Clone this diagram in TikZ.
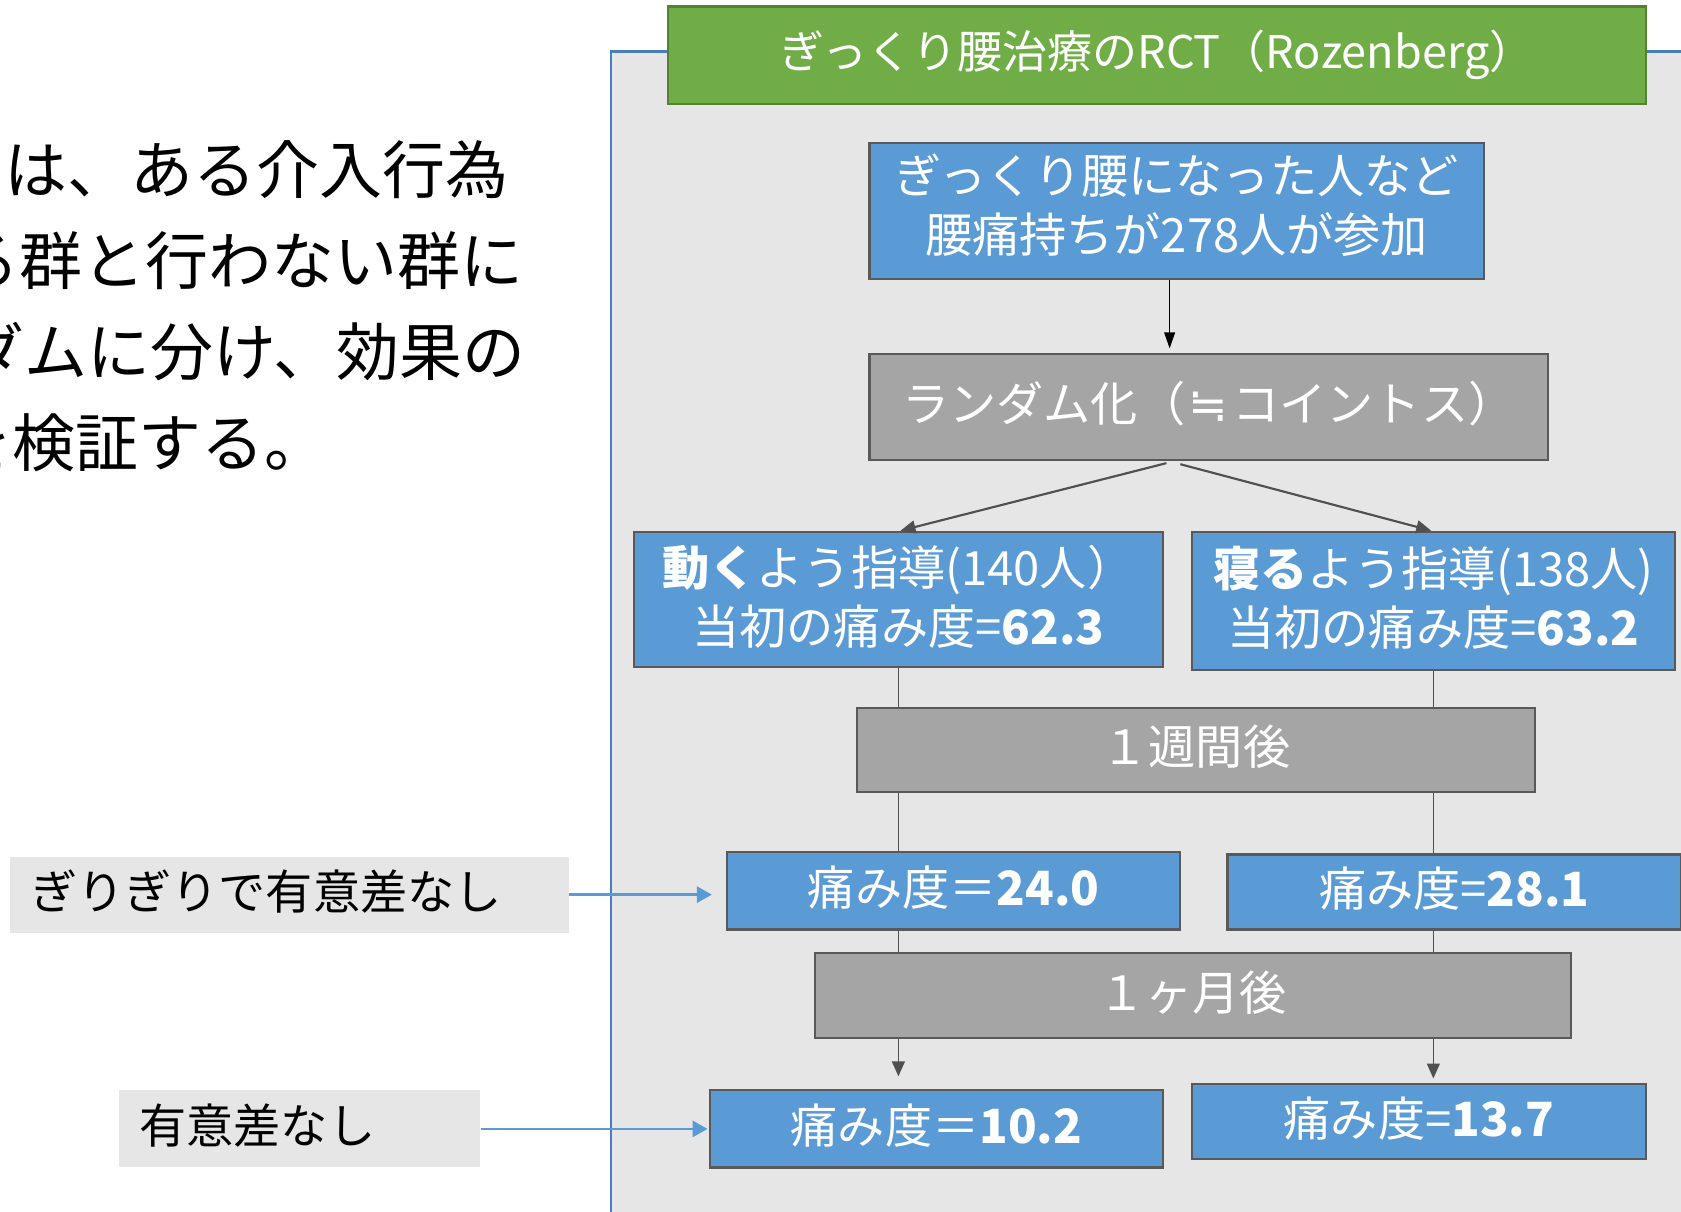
\documentclass[tikz,border=0pt]{standalone}
\usepackage{fontspec}
\setmainfont{Noto Sans CJK JP}
\newfontfamily\symfont{DejaVu Sans}
\usetikzlibrary{arrows.meta,calc}
\definecolor{panelfill}{RGB}{230,230,230}
\definecolor{panelline}{RGB}{74,126,187}
\definecolor{tgreen}{RGB}{112,173,71}
\definecolor{tgreenline}{RGB}{84,130,53}
\definecolor{bfill}{RGB}{91,155,213}
\definecolor{gfill}{RGB}{165,165,165}
\definecolor{bline}{RGB}{89,89,89}
\definecolor{conn}{RGB}{80,80,80}
\begin{document}
\begin{tikzpicture}[x=1pt,y=-1pt,
  box/.style={draw=bline,line width=2pt,inner sep=0pt,text=white,align=center,
    font=\fontsize{44}{55}\selectfont},
  oneline/.style={text height=38pt,text depth=10.6pt},
  bluebox/.style={box,fill=bfill},
  graybox/.style={box,fill=gfill},
  titlebox/.style={box,fill=tgreen,draw=tgreenline,font=\fontsize{42}{50}\selectfont},
  sidelabel/.style={fill=panelfill,inner ysep=0pt,inner xsep=19pt,align=left,
    text=black,font=\fontsize{44}{55}\selectfont,oneline},
  bodytext/.style={anchor=west,inner sep=0pt,text=black,font=\fontsize{58.7}{85}\selectfont},
  darrow/.style={draw=conn,line width=2pt,-{Triangle[length=14pt,width=12pt]}},
  dline/.style={draw=conn,line width=1.6pt},
  karrow/.style={draw=black,line width=1.6pt,-{Triangle[length=15pt,width=10pt]}},
  barrow/.style={draw=bfill,line width=2.6pt,-{Triangle[length=14pt,width=15pt]}}
]
\useasboundingbox (0,0) rectangle (1568,1130);
\clip (0,0) rectangle (1568,1130);
\fill[white] (0,0) rectangle (1568,1130);

% left explanatory text (cut by the page edge, as in the reference)
\node[bodytext] (t1) at (4,158) {は、ある介入行為};
\node[bodytext] (t2) at (-40.5,243) {る群と行わない群に};
\node[bodytext] (t3) at (-35.7,328) {ダムに分け、効果の};
\node[bodytext] (t4) at (-47.2,413) {を検証する。};

% panel
\draw[fill=panelfill,draw=panelline,line width=2pt] (570,48) rectangle (1600,1160);

% title
\node[titlebox,minimum width=912pt,minimum height=91pt] (title) at (1079,51.5)
  {ぎっくり腰治療のRCT（Rozenberg）};

% boxes
\node[bluebox,minimum width=573pt,minimum height=127pt,text width=560pt,
  text height=38pt,text depth=69.6pt] (b1) at (1097.5,196.5)
  {ぎっくり腰になった人など\\腰痛持ちが278人が参加};
\node[graybox,oneline,minimum width=633pt,minimum height=99pt] (rnd) at (1127.5,379.5)
  {ランダム化（\makebox[44pt]{\symfont ≒}コイントス）};
\node[bluebox,minimum width=494pt,minimum height=126pt,text width=480pt,
  text height=38pt,text depth=64pt] (L) at (838,559)
  {\textbf{動く}よう指導(140人）\\当初の痛み度=\textbf{62.3}};
\node[bluebox,minimum width=450pt,minimum height=129pt,text width=445pt,
  text height=38pt,text depth=64pt] (R) at (1337,560.5)
  {\textbf{寝る}よう指導(138人)\\当初の痛み度=\textbf{63.2}};
\node[graybox,oneline,minimum width=633pt,minimum height=79pt] (wk) at (1115.5,699.5)
  {１週間後};
\node[bluebox,oneline,minimum width=423pt,minimum height=72pt] (p1L) at (889.5,831)
  {痛み度＝\textbf{24.0}};
\node[bluebox,oneline,minimum width=423pt,minimum height=70pt] (p1R) at (1356.5,832)
  {痛み度=\textbf{28.1}};
\node[graybox,oneline,minimum width=705pt,minimum height=79pt] (mo) at (1112.5,928.5)
  {１ヶ月後};
\node[bluebox,oneline,minimum width=423pt,minimum height=72pt] (p2L) at (873.5,1053)
  {痛み度＝\textbf{10.2}};
\node[bluebox,oneline,minimum width=423pt,minimum height=70pt] (p2R) at (1323.5,1046)
  {痛み度=\textbf{13.7}};

% side labels
\node[sidelabel,text width=484pt,minimum height=71pt] (lab1) at (270,834.5)
  {ぎりぎりで有意差なし};
\node[sidelabel,text width=299pt,minimum height=72pt] (lab2) at (279.5,1053)
  {有意差なし};

% connectors
\draw[karrow,shorten >=4pt] ([xshift=-6.5pt]b1.south) -- ([xshift=-6.5pt]b1.south |- rnd.north);
\draw[darrow] ([xshift=-39.5pt,yshift=-2pt]rnd.south) -- ([xshift=2pt]L.north);
\draw[darrow] ([xshift=-26.5pt,yshift=-3pt]rnd.south) -- ([xshift=-2pt]R.north);

\draw[dline] (L.south) -- (L.south |- wk.north);
\draw[dline] (L.south |- wk.south) -- (L.south |- p1L.north);
\draw[dline] (L.south |- p1L.south) -- (L.south |- mo.north);
\draw[darrow,line width=1.6pt,shorten >=12pt] (L.south |- mo.south) -- (L.south |- p2L.north);

\draw[dline] (R.south) -- (R.south |- wk.north);
\draw[dline] (R.south |- wk.south) -- (R.south |- p1R.north);
\draw[dline] (R.south |- p1R.south) -- (R.south |- mo.north);
\draw[darrow,line width=1.6pt,shorten >=4pt] (R.south |- mo.south) -- (R.south |- p2R.north);

\draw[barrow,shorten >=13pt] (lab1.east) -- (lab1.east -| p1L.west);
\draw[barrow,shorten >=1pt] (lab2.east) -- (lab2.east -| p2L.west);
\end{tikzpicture}
\end{document}
